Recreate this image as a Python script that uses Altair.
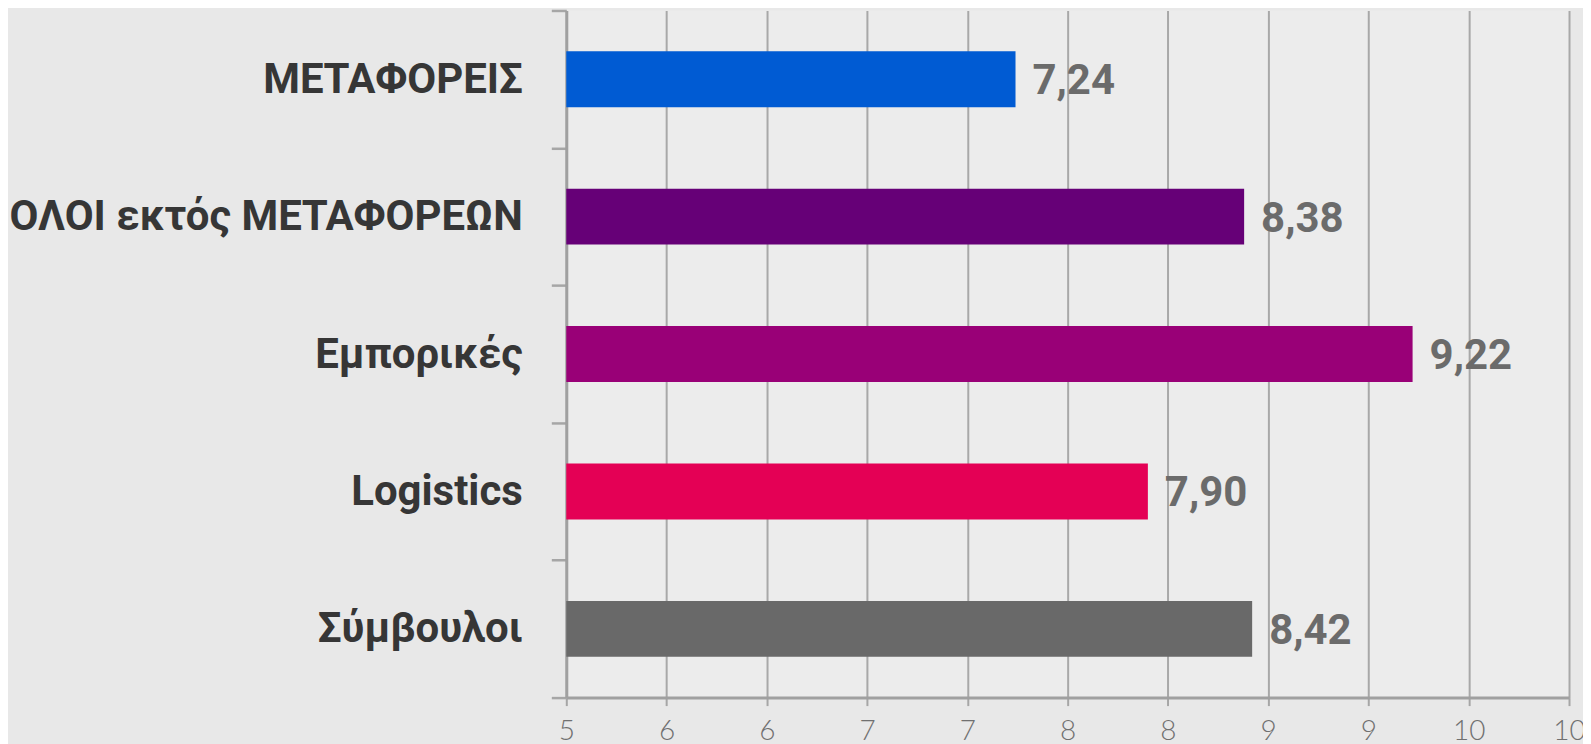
import altair as alt
import pandas as pd

categories = ["ΜΕΤΑΦΟΡΕΙΣ", "ΟΛΟΙ εκτός ΜΕΤΑΦΟΡΕΩΝ", "Εμπορικές", "Logistics", "Σύμβουλοι"]
values = [7.24, 8.38, 9.22, 7.90, 8.42]
colors = ["#005BD3", "#660077", "#990077", "#E40055", "#696969"]
x_ticks = [5, 5.5, 6, 6.5, 7, 7.5, 8, 8.5, 9, 9.5, 10]
x_min, x_max = 5, 10

df = pd.DataFrame({"cat": categories, "value": values})

W, H = 1004, 688

x_scale = alt.Scale(domain=[x_min, x_max], nice=False, zero=False)

y_enc = alt.Y(
    "cat:N",
    sort=categories,
    title=None,
    scale=alt.Scale(paddingInner=0, paddingOuter=0),
    axis=alt.Axis(
        tickBand="extent",
        domainColor="#a0a0a0",
        domainWidth=3,
        tickColor="#a6a6a6",
        tickWidth=2.5,
        tickSize=15,
        labelPadding=29,
        labelFont="Roboto",
        labelFontWeight="bold",
        labelFontSize=42,
        labelColor="#363636",
        labelLimit=600,
        grid=False,
    ),
)

x_enc = alt.X(
    "value:Q",
    title=None,
    scale=x_scale,
    axis=alt.Axis(
        values=x_ticks,
        labelExpr="format(round(datum.value), 'd')",
        domainColor="#a0a0a0",
        domainWidth=3,
        tickColor="#a6a6a6",
        tickWidth=2,
        tickSize=8,
        labelPadding=12,
        labelFont="Lato",
        labelFontWeight=300,
        labelFontSize=28,
        labelColor="#707070",
        labelFlush=False,
        grid=True,
        gridColor="#a8a8a8",
        gridWidth=2,
    ),
)

bars = alt.Chart(df).mark_bar(size=56).encode(
    x=x_enc,
    x2=alt.datum(x_min),
    y=y_enc,
    color=alt.Color("cat:N", scale=alt.Scale(domain=categories, range=colors), legend=None),
)

labels = alt.Chart(df).transform_calculate(
    label="replace(format(datum.value, '.2f'), '.', ',')"
).mark_text(
    align="left", baseline="middle", dx=17, dy=2,
    font="Roboto", fontWeight="bold", fontSize=42, color="#6b6b6b",
).encode(
    x=alt.X("value:Q", scale=x_scale),
    y=alt.Y("cat:N", sort=categories),
    text="label:N",
)

chart = alt.layer(bars, labels).properties(
    width=W,
    height=H,
    background="#e8e8e8",
    padding={"left": 559, "top": 2, "right": 14, "bottom": 46},
    autosize=alt.AutoSizeParams(type="none"),
).configure_view(strokeWidth=0, fill="#ececec")

chart.save("out.html", embed_options={"renderer": "svg", "actions": False})
